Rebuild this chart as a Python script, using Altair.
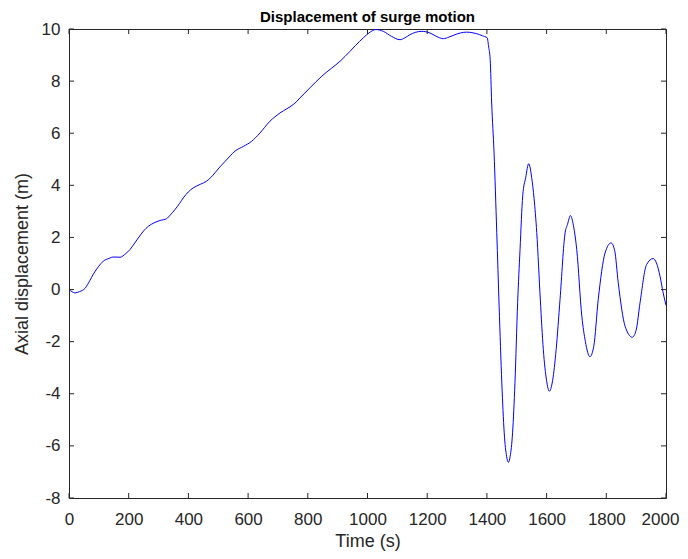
import altair as alt
import pandas as pd

time_s = [0, 10, 20, 35, 54, 70, 81, 100, 115, 135, 148, 171, 190, 204, 218, 232, 250, 266, 285, 305,
          327, 340, 355, 370, 383, 400, 416, 440, 461, 475, 489, 505, 523, 540, 556, 585, 612, 625, 640, 655,
          673, 690, 707, 730, 751, 763, 774, 790, 807, 827, 847, 880, 908, 925, 941, 960, 986, 1005, 1028, 1053,
          1080, 1109, 1125, 1142, 1160, 1182, 1209, 1230, 1254, 1273, 1293, 1312, 1332, 1350, 1366, 1385, 1401, 1406, 1411, 1416,
          1424, 1433, 1441, 1450, 1458, 1466, 1472, 1478, 1486, 1494, 1503, 1511, 1520, 1530, 1540, 1550, 1558, 1567, 1579, 1589,
          1600, 1609, 1620, 1632, 1645, 1662, 1670, 1680, 1690, 1701, 1718, 1730, 1745, 1758, 1773, 1796, 1816, 1828, 1840, 1863,
          1887, 1900, 1913, 1935, 1957, 1968, 1980, 1990, 2000]
displacement = [0.0, -0.08, -0.13, -0.08, 0.05, 0.35, 0.58, 0.9, 1.09, 1.2, 1.25, 1.24, 1.38, 1.53, 1.75, 1.98, 2.25, 2.43, 2.56, 2.65,
                2.72, 2.87, 3.07, 3.3, 3.52, 3.75, 3.9, 4.04, 4.16, 4.3, 4.48, 4.7, 4.92, 5.13, 5.31, 5.5, 5.69, 5.83, 6.01, 6.22,
                6.46, 6.63, 6.78, 6.94, 7.1, 7.22, 7.36, 7.54, 7.74, 7.97, 8.19, 8.5, 8.76, 8.95, 9.14, 9.37, 9.66, 9.85, 9.98, 9.91,
                9.72, 9.59, 9.66, 9.78, 9.87, 9.91, 9.85, 9.72, 9.63, 9.69, 9.78, 9.85, 9.88, 9.86, 9.82, 9.74, 9.66, 9.3, 8.83, 7.16,
                5.24, 2.2, -0.64, -3.58, -5.5, -6.4, -6.63, -6.4, -5.5, -3.58, -0.5, 1.53, 3.6, 4.3, 4.83, 4.3, 3.5, 2.19, -0.4, -2.3,
                -3.5, -3.9, -3.5, -2.3, -0.38, 2.18, 2.5, 2.84, 2.45, 1.53, -1.02, -2.0, -2.58, -2.18, -0.38, 1.41, 1.79, 1.5, 0.26, -1.41,
                -1.83, -1.56, -0.51, 0.96, 1.19, 1.02, 0.51, -0.1, -0.6]

x_ticks = [0, 200, 400, 600, 800, 1000, 1200, 1400, 1600, 1800, 2000]
y_ticks = [-8, -6, -4, -2, 0, 2, 4, 6, 8, 10]

W, H = 597, 469
TXT = "#262626"
FONT = "Liberation Sans"

df = pd.DataFrame({"t": time_s, "d": displacement})
xt = pd.DataFrame({"t": x_ticks})
yt = pd.DataFrame({"d": y_ticks})

xscale = alt.Scale(domain=[0, 2000], nice=False, zero=False)
yscale = alt.Scale(domain=[-8, 10], nice=False, zero=False)

label_expr = "'' + datum.value"
xaxis = alt.Axis(values=x_ticks, ticks=False, grid=False, domain=False, labelPadding=13,
                 labelFontSize=17, labelColor=TXT, labelFont=FONT, titleFont=FONT, labelExpr=label_expr,
                 labelOffset=alt.ExprRef(expr="datum.value == 2000 ? -6 : 0"),
                 titleFontSize=18, titleFontWeight="normal", titleColor=TXT, titlePadding=5,
                 labelFlush=False)
yaxis = alt.Axis(values=y_ticks, ticks=False, grid=False, domain=False, labelPadding=9,
                 labelFontSize=17, labelColor=TXT, labelFont=FONT, titleFont=FONT, labelExpr=label_expr,
                 titleFontSize=18, titleFontWeight="normal", titleColor=TXT, titlePadding=10,
                 labelFlush=False)

line = alt.Chart(df).mark_line(color="#0000ff", strokeWidth=1, interpolate="monotone").encode(
    x=alt.X("t:Q", scale=xscale, title="Time (s)", axis=xaxis),
    y=alt.Y("d:Q", scale=yscale, title="Axial displacement (m)", axis=yaxis),
)

tick_len = 5
xt_bottom = alt.Chart(xt).mark_rule(color=TXT, strokeWidth=1).encode(
    x=alt.X("t:Q", scale=xscale, title="Time (s)", axis=xaxis), y=alt.value(H), y2=alt.value(H - tick_len))
xt_top = alt.Chart(xt).mark_rule(color=TXT, strokeWidth=1).encode(
    x=alt.X("t:Q", scale=xscale, title="Time (s)", axis=xaxis), y=alt.value(0), y2=alt.value(tick_len))
yt_left = alt.Chart(yt).mark_rule(color=TXT, strokeWidth=1).encode(
    y=alt.Y("d:Q", scale=yscale, title="Axial displacement (m)", axis=yaxis), x=alt.value(0), x2=alt.value(tick_len))
yt_right = alt.Chart(yt).mark_rule(color=TXT, strokeWidth=1).encode(
    y=alt.Y("d:Q", scale=yscale, title="Axial displacement (m)", axis=yaxis), x=alt.value(W), x2=alt.value(W - tick_len))

chart = alt.layer(line, xt_bottom, xt_top, yt_left, yt_right).properties(
    width=W, height=H,
    title=alt.TitleParams("Displacement of surge motion", font=FONT, fontSize=15, fontWeight="bold",
                          color="black", anchor="middle", offset=-5),
    autosize=alt.AutoSizeParams(type="none"),
    padding={"left": 61, "top": 21, "right": 14, "bottom": 53},
).configure(background="white", view=alt.ViewConfig(stroke=TXT, strokeWidth=1))

chart.save("out.html", embed_options={"renderer": "svg", "actions": False})
